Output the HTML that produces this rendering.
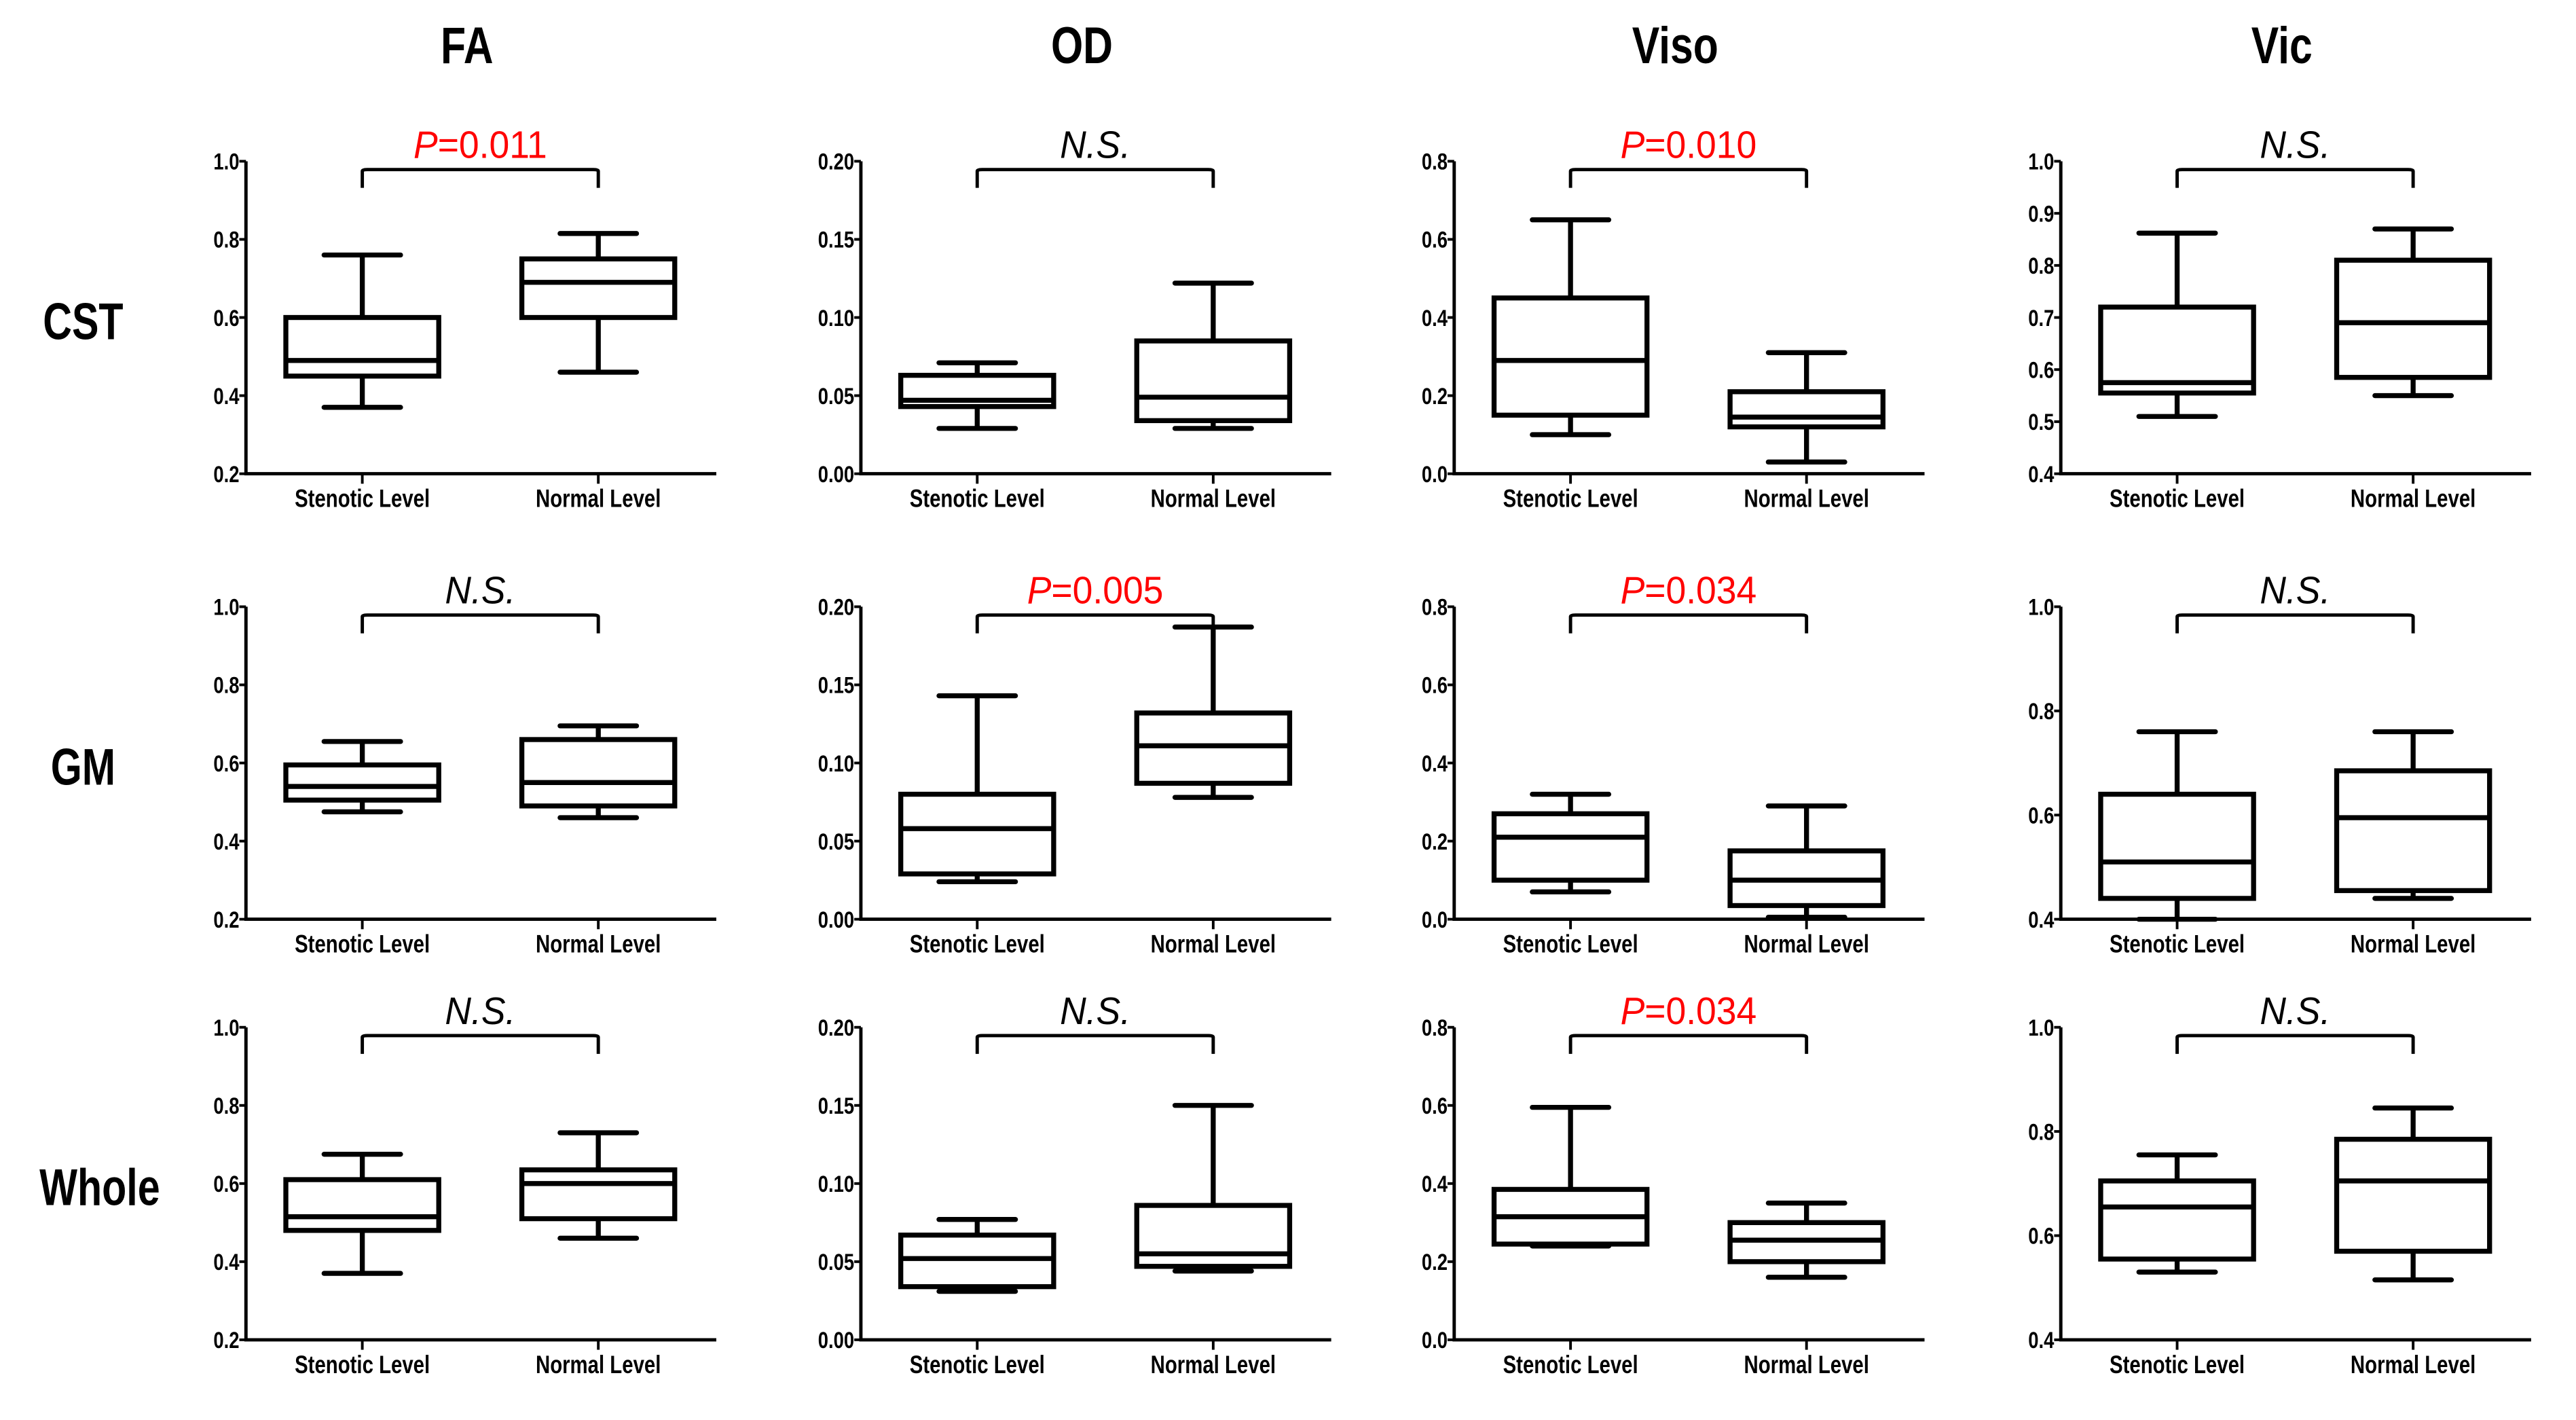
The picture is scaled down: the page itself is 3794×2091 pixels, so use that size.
<!DOCTYPE html>
<html><head><meta charset="utf-8"><style>
html,body{margin:0;padding:0;background:#fff;}
svg{display:block;}
.t{font-family:"Liberation Sans",sans-serif;font-weight:bold;}
</style></head><body>
<svg id="fig" width="3794" height="2091" viewBox="0 0 1550 854.25" xmlns="http://www.w3.org/2000/svg"></svg>
<script>
const colTitles = ["FA","OD","Viso","Vic"];
const rowTitles = ["CST","GM","Whole"];
const categories = ["Stenotic Level","Normal Level"];
// [min,q1,median,q3,max] per panel: [stenotic, normal]
const cstFA   = [[0.37,0.45,0.49,0.60,0.76],[0.46,0.60,0.69,0.75,0.815]];
const cstOD   = [[0.029,0.043,0.047,0.063,0.071],[0.029,0.034,0.049,0.085,0.122]];
const cstViso = [[0.10,0.15,0.29,0.45,0.65],[0.03,0.12,0.145,0.21,0.31]];
const cstVic  = [[0.51,0.555,0.575,0.72,0.862],[0.55,0.585,0.69,0.81,0.87]];
const gmFA    = [[0.475,0.505,0.54,0.595,0.655],[0.46,0.49,0.55,0.66,0.695]];
const gmOD    = [[0.024,0.029,0.058,0.080,0.143],[0.078,0.087,0.111,0.132,0.187]];
const gmViso  = [[0.07,0.10,0.21,0.27,0.32],[0.005,0.035,0.10,0.175,0.29]];
const gmVic   = [[0.40,0.44,0.51,0.64,0.76],[0.44,0.455,0.595,0.685,0.76]];
const whFA    = [[0.37,0.48,0.515,0.61,0.675],[0.46,0.51,0.60,0.635,0.73]];
const whOD    = [[0.031,0.034,0.052,0.067,0.077],[0.044,0.047,0.055,0.086,0.150]];
const whViso  = [[0.24,0.245,0.315,0.385,0.595],[0.16,0.20,0.255,0.30,0.35]];
const whVic   = [[0.53,0.555,0.655,0.705,0.755],[0.515,0.57,0.705,0.785,0.845]];
const faTicks   = ["0.2","0.4","0.6","0.8","1.0"];
const odTicks   = ["0.00","0.05","0.10","0.15","0.20"];
const visoTicks = ["0.0","0.2","0.4","0.6","0.8"];
const vicTicks1 = ["0.4","0.5","0.6","0.7","0.8","0.9","1.0"];
const vicTicks2 = ["0.4","0.6","0.8","1.0"];
const pLabels = [["P=0.011","N.S.","P=0.010","N.S."],["N.S.","P=0.005","P=0.034","N.S."],["N.S.","N.S.","P=0.034","N.S."]];

const data = [[cstFA,cstOD,cstViso,cstVic],[gmFA,gmOD,gmViso,gmVic],[whFA,whOD,whViso,whVic]];
const ticks = [[faTicks,odTicks,visoTicks,vicTicks1],[faTicks,odTicks,visoTicks,vicTicks2],[faTicks,odTicks,visoTicks,vicTicks2]];
const axX = [148,518,875,1240], axW = 283;
const rowTop = [97,365,618], plotH = 188;
const svg = document.getElementById('fig');
const NS = "http://www.w3.org/2000/svg";
function mk(tag, attrs, parent){const e=document.createElementNS(NS,tag);for(const k in attrs)e.setAttribute(k,attrs[k]);(parent||svg).appendChild(e);return e;}
function txt(parent,x,y,str,size,sx,anchor,cls){
  const e=mk('text',{transform:`translate(${x},${y}) scale(${sx},1)`,'text-anchor':anchor,'font-size':size},parent);
  if(cls)e.setAttribute('class',cls);
  if(str!==null)e.textContent=str;
  return e;
}

colTitles.forEach((t,i)=>{const e=txt(svg,axX[i]+133,38,t,31,0.8,'middle','t');

});
rowTitles.forEach((t,r)=>{const e=txt(svg,t==="Whole"?60:50,rowTop[r]+107,t,31,0.78,'middle','t');

});

for(let r=0;r<3;r++)for(let c=0;c<4;c++){
  const g=mk('g',{});
  
  
  const tk=ticks[r][c].map(Number), lo=tk[0], hi=tk[tk.length-1];
  const x0=axX[c], top=rowTop[r], bot=top+plotH;
  const y=v=>bot-(v-lo)/(hi-lo)*plotH;
  const xc=i=>x0+70+i*142;
  const ax=mk('path',{d:`M${x0} ${top}V${bot}H${x0+axW}`,stroke:'#000','stroke-width':2,fill:'none'},g);
  
  
  ticks[r][c].forEach(l=>{const v=Number(l);
    mk('line',{x1:x0-4,x2:x0,y1:y(v),y2:y(v),stroke:'#000','stroke-width':1.6},g);
    const e=txt(g,x0-4,y(v)+5,l,14,0.8,'end','t');
    
    });
  categories.forEach((cat,i)=>{
    mk('line',{x1:xc(i),x2:xc(i),y1:bot,y2:bot+6,stroke:'#000','stroke-width':1.6},g);
    const e=txt(g,xc(i),bot+20,cat,15,0.8,'middle','t');
    
    
    const d=data[r][c][i];
    const b=mk('g',{},g);
    
    
    const st={stroke:'#000','stroke-width':3,fill:'none'};
    mk('line',Object.assign({x1:xc(i),x2:xc(i),y1:y(d[0]),y2:y(d[1])},st),b);
    mk('line',Object.assign({x1:xc(i),x2:xc(i),y1:y(d[3]),y2:y(d[4])},st),b);
    mk('line',Object.assign({x1:xc(i)-23,x2:xc(i)+23,y1:y(d[0]),y2:y(d[0]),'stroke-linecap':'round'},st),b);
    mk('line',Object.assign({x1:xc(i)-23,x2:xc(i)+23,y1:y(d[4]),y2:y(d[4]),'stroke-linecap':'round'},st),b);
    mk('rect',Object.assign({x:xc(i)-46,y:y(d[3]),width:92,height:y(d[1])-y(d[3])},st),b);
    mk('line',Object.assign({x1:xc(i)-46,x2:xc(i)+46,y1:y(d[2]),y2:y(d[2])},st),b);
  });
  const br=mk('path',{d:`M${xc(0)} ${top+16}V${top+6}Q${xc(0)} ${top+5} ${xc(0)+3} ${top+5}H${xc(1)-3}Q${xc(1)} ${top+5} ${xc(1)} ${top+6}V${top+16}`,stroke:'#000','stroke-width':2,fill:'none'},g);
  
  
  const p=pLabels[r][c];
  const t=txt(g,(xc(0)+xc(1))/2,top-2,null,23,0.95,'middle',null);
  t.setAttribute('font-family','"Liberation Sans",sans-serif');
  
  
  if(p.startsWith('P')){t.setAttribute('fill','#f00');
    const a=mk('tspan',{'font-style':'italic'},t);a.textContent='P';
    const b2=mk('tspan',{},t);b2.textContent=p.slice(1);
  } else {t.setAttribute('font-style','italic');t.textContent=p;}
}
</script>
</body></html>
